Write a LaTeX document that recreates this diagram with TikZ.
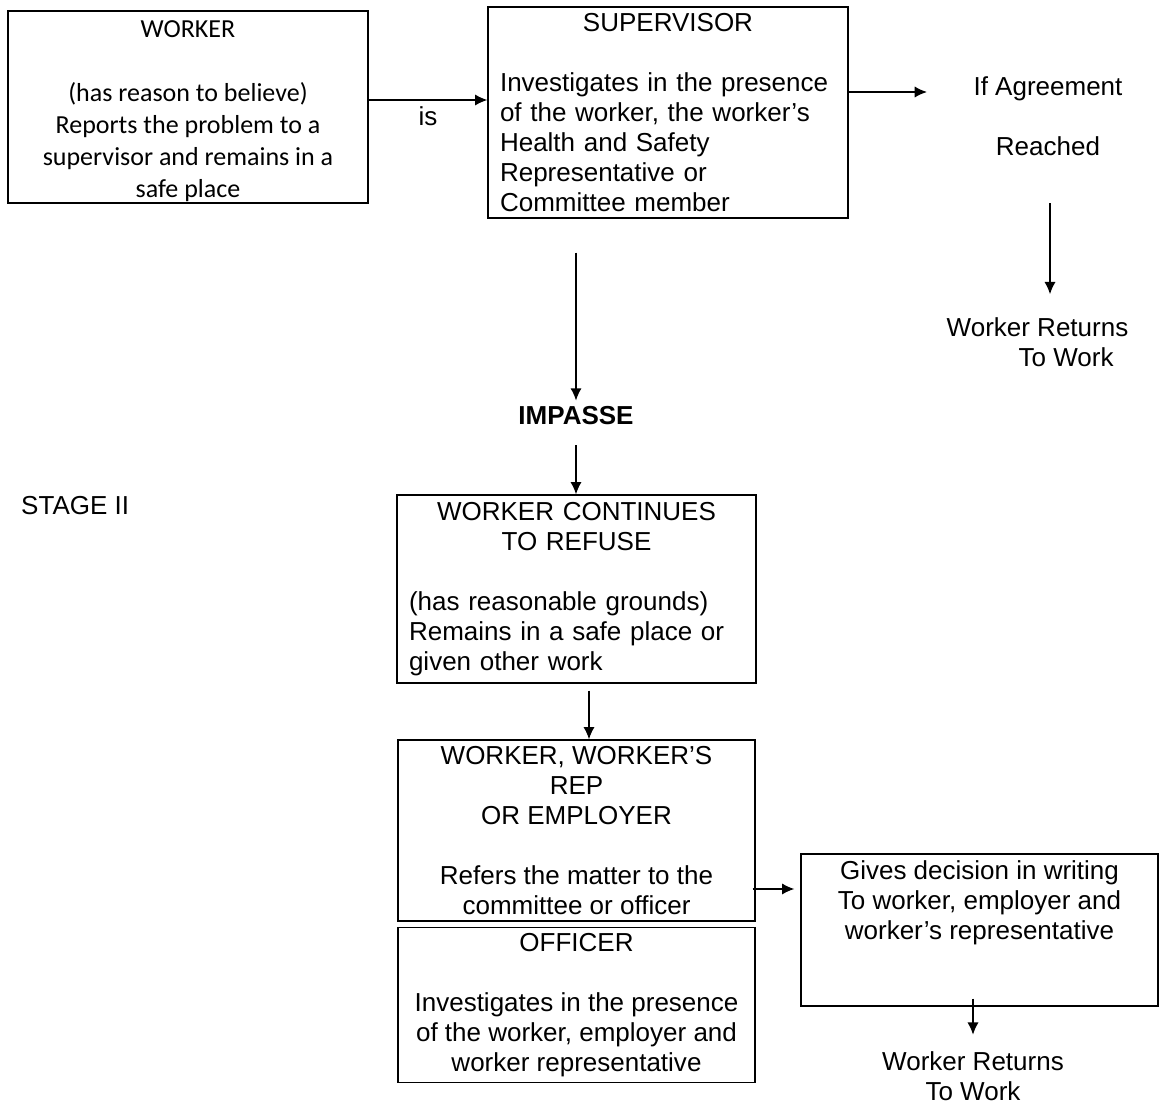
\documentclass[tikz,border=0pt]{standalone}
\usepackage{fontspec}
\usetikzlibrary{arrows.meta}
\setmainfont{Liberation Sans}
\newfontfamily\calfont{Carlito}
\begin{document}
\begin{tikzpicture}[x=0.02cm, y=-0.02cm,
		every node/.style={font=\fontsize{14.8}{17.07}\selectfont},
		box/.style={draw, line width=0.75pt},
		arr/.style={-{Latex[length=7pt,width=6.4pt]}, line width=0.9pt}]
	\useasboundingbox (0,0) rectangle (1160,1105);
	\node[box, align=center, minimum width=7.2cm, minimum height=3.84cm, inner ysep=0pt, font=\calfont\fontsize{14.8}{18.2}\selectfont] (worker) at (188,107) {\rule{0pt}{14.1pt}WORKER\\[18.2pt](has reason to believe)\\Reports the problem to a\\supervisor and remains in a\\safe place};
	\node[box, align=left, text width=6.72cm, inner xsep=0.24cm, minimum height=4.22cm] (sup) at (668,112.5) {{\centering SUPERVISOR\par}\vspace{17.07pt}Investigates in the presence\\of the worker, the worker’s\\Health and Safety\\Representative or\\Committee member};
	\node[align=center] (agree) at (1048,116.5) {If Agreement\\[17.07pt]Reached};
	\node[align=left] (ret1) at (1037.5,342) {Worker Returns\\\hspace*{1.44cm}To Work};
	\node (impasse) at (576,416) {\bfseries IMPASSE};
	\node[anchor=west] (stage) at (15,506) {STAGE II};
	\node[box, align=left, text width=6.7cm, inner xsep=0.24cm, minimum height=3.76cm] (refuse) at (576.5,589) {{\centering WORKER CONTINUES\\TO REFUSE\par}\vspace{17.07pt}(has reasonable grounds)\\Remains in a safe place or\\given other work};
	\node[box, align=center, minimum width=7.14cm, minimum height=3.62cm] (rep) at (576.5,830.5) {WORKER, WORKER’S\\REP\\OR EMPLOYER\\[17.07pt]Refers the matter to the\\committee or officer};
	\node[box, align=center, minimum width=7.14cm, minimum height=3.04cm] (officer) at (576.5,1005) {OFFICER\\[17.07pt]Investigates in the presence\\of the worker, employer and\\worker representative};
	\node[box, align=center, minimum width=7.14cm, minimum height=3.04cm] (decision) at (979.5,930) {Gives decision in writing\\To worker, employer and\\worker’s representative\\[17.07pt]\mbox{}};
	\node[align=center] (ret2) at (973,1076) {Worker Returns\\To Work};
	\coordinate (isL) at ([yshift=0.14cm]worker.east);
	\draw[arr] (isL) -- (isL -| sup.west) node[midway, below] {is};
	\coordinate (agreeIn) at (927,92);
	\draw[arr] (sup.east |- agreeIn) -- (agreeIn);
	\draw[arr, shorten <=0.82cm, shorten >=0.34cm] ([xshift=0.04cm]agree.south) -- ([xshift=0.04cm]agree.south |- ret1.north);
	\draw[arr, shorten <=0.68cm] (impasse.north |- sup.south) -- (impasse.north);
	\draw[arr, shorten <=0.28cm] (impasse.south) -- (impasse.south |- refuse.north);
	\coordinate (rfOut) at ([xshift=0.25cm]refuse.south);
	\draw[arr, shorten <=0.14cm] (rfOut) -- (rfOut |- rep.north);
	\coordinate (rpOut) at ([yshift=-1.17cm]rep.east);
	\draw[arr, shorten <=-0.06cm, shorten >=0.12cm] (rpOut) -- (rpOut -| decision.west);
	\draw[arr, shorten <=-0.16cm, shorten >=0.21cm] (ret2.north |- decision.south) -- (ret2.north);
\end{tikzpicture}
\end{document}
